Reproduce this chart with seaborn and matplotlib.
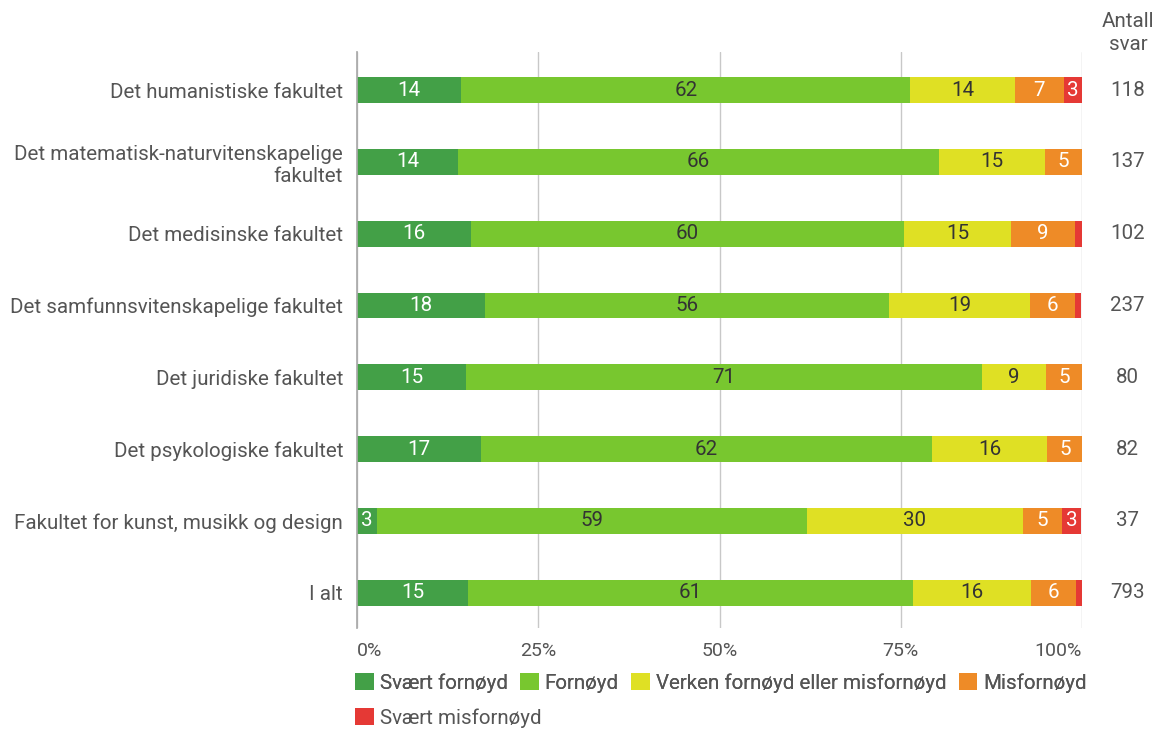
import matplotlib.pyplot as plt
import matplotlib.patches as mpatches
import numpy as np
import pandas as pd
import seaborn as sns

# categories (top to bottom)
fakulteter = [
    'Det humanistiske fakultet',
    'Det matematisk-naturvitenskapelige\nfakultet',
    'Det medisinske fakultet',
    'Det samfunnsvitenskapelige fakultet',
    'Det juridiske fakultet',
    'Det psykologiske fakultet',
    'Fakultet for kunst, musikk og design',
    'I alt',
]
antall_svar = [118, 137, 102, 237, 80, 82, 37, 793]

svaert_fornoyd = [14.4, 13.9, 15.7, 17.7, 15.0, 17.1, 2.7, 15.3]
fornoyd = [61.9, 66.4, 59.8, 55.7, 71.2, 62.2, 59.4, 61.4]
verken = [14.4, 14.6, 14.7, 19.4, 8.8, 15.9, 29.7, 16.3]
misfornoyd = [6.8, 5.1, 8.8, 6.3, 5.0, 4.9, 5.4, 6.2]
svaert_misfornoyd = [2.5, 0.0, 1.0, 0.8, 0.0, 0.0, 2.7, 0.9]

kategorier = ['Svært fornøyd', 'Fornøyd', 'Verken fornøyd eller misfornøyd',
              'Misfornøyd', 'Svært misfornøyd']
farger = ['#43a047', '#78c72f', '#dfe024', '#ee8b27', '#e53935']
tekstfarger = ['white', '#333333', '#333333', 'white', 'white']

df = pd.DataFrame({
    'Fakultet': fakulteter,
    kategorier[0]: svaert_fornoyd,
    kategorier[1]: fornoyd,
    kategorier[2]: verken,
    kategorier[3]: misfornoyd,
    kategorier[4]: svaert_misfornoyd,
})

sns.set_theme(style='white')
plt.rcParams['font.family'] = ['Roboto', 'DejaVu Sans']
grey = '#555555'
fs = 14.8

fig = plt.figure(figsize=(11.65, 7.31), dpi=100)
ax = fig.add_axes([357 / 1165, 1 - 628 / 731, 725 / 1165, 576 / 731])

# stacked bars: draw cumulative sums from the right-most segment backwards
cum = df[kategorier].cumsum(axis=1)
for i in range(len(kategorier) - 1, -1, -1):
    sns.barplot(x=cum[kategorier[i]], y=df['Fakultet'], orient='h',
                color=farger[i], saturation=1, width=0.36, linewidth=0, ax=ax)

# segment labels
for r in range(len(df)):
    start = 0
    for i, k in enumerate(kategorier):
        v = df.loc[r, k]
        if v >= 2:
            ax.text(start + v / 2, r, f'{int(v + 0.5)}', ha='center', va='center',
                    color=tekstfarger[i], fontsize=fs)
        start += v

ax.set_xlim(0, 100)
ax.set_ylim(7.49, -0.53)
ax.set_xticks([0, 25, 50, 75, 100])
ax.set_xticklabels(['0%', '25%', '50%', '75%', '100%'])
ax.xaxis.grid(True, color='#c8c8c8', linewidth=1)
ax.yaxis.grid(False)
ax.set_axisbelow(True)
for s in ['top', 'right', 'bottom']:
    ax.spines[s].set_visible(False)
ax.spines['left'].set_color('#aaaaaa')
ax.set_xlabel('')
ax.set_ylabel('')
ax.tick_params(axis='x', labelcolor=grey, labelsize=14, length=0, pad=10)
ax.tick_params(axis='y', length=0, labelcolor=grey, labelsize=fs, pad=10)
xlabels = ax.get_xticklabels()
xlabels[0].set_ha('left')
xlabels[-1].set_ha('right')
for lbl in ax.get_yticklabels():
    lbl.set_multialignment('right')

# antall svar column
for r, n in enumerate(antall_svar):
    ax.text(1.063, r, str(n), transform=ax.get_yaxis_transform(),
            ha='center', va='center', color=grey, fontsize=fs)
fig.text(1128 / 1165, 1 - 33 / 731, 'Antall\nsvar', ha='center', va='center',
         color=grey, fontsize=fs, linespacing=1.25)

# legend in two rows
handles = [mpatches.Patch(facecolor=c, edgecolor='none') for c in farger]
leg1 = fig.legend(handles[:4], kategorier[:4], loc='center left',
                  bbox_to_anchor=(355 / 1165, 1 - 683 / 731), ncol=4,
                  frameon=False, fontsize=fs, handlelength=0.9, handleheight=0.9,
                  handletextpad=0.3, columnspacing=0.6, borderpad=0,
                  borderaxespad=0, labelcolor=grey)
fig.add_artist(leg1)
fig.legend(handles[4:], kategorier[4:], loc='center left',
           bbox_to_anchor=(355 / 1165, 1 - 718 / 731), ncol=1,
           frameon=False, fontsize=fs, handlelength=0.9, handleheight=0.9,
           handletextpad=0.3, borderpad=0, borderaxespad=0, labelcolor=grey)

fig.savefig('out.png', dpi=100)
